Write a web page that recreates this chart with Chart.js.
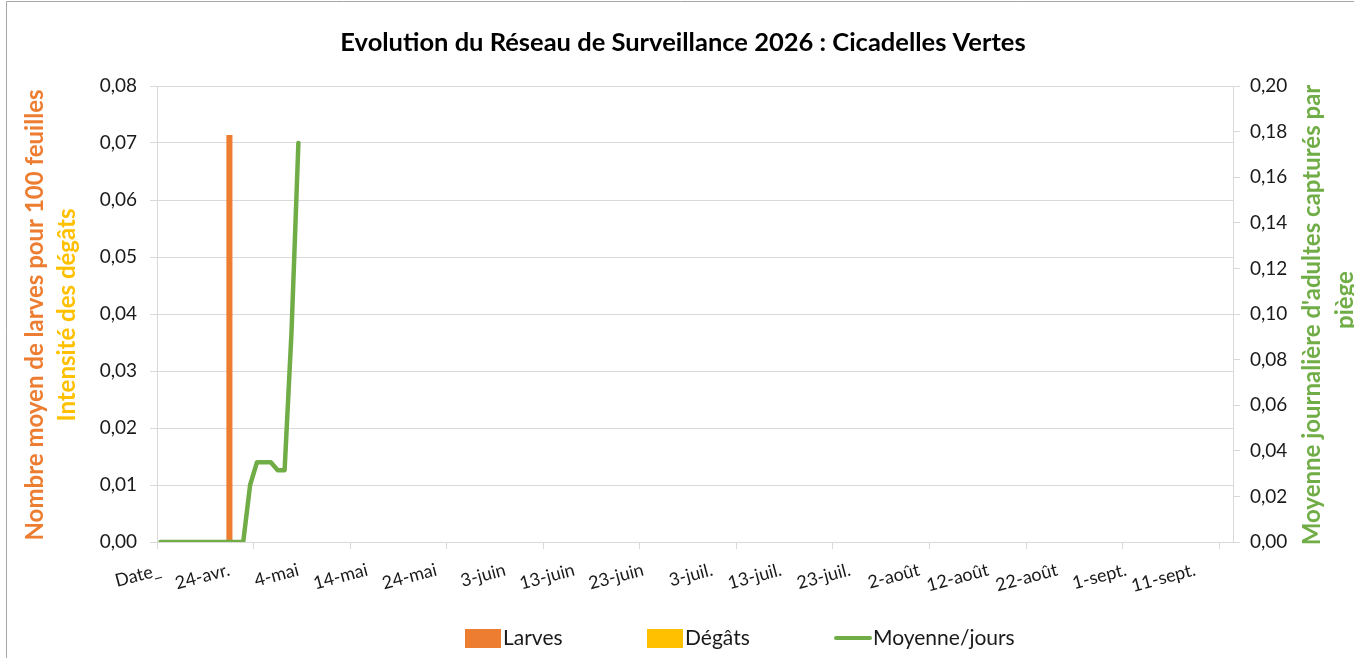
<!DOCTYPE html>
<html>
<head>
<meta charset="utf-8">
<script src="https://cdn.jsdelivr.net/npm/chart.js@4.4.1/dist/chart.umd.min.js"></script>
<style>
  html, body { margin: 0; padding: 0; background: #ffffff; }
  #wrap { position: relative; width: 1354px; height: 658px; }
  canvas { display: block; }
</style>
</head>
<body>
<div id="wrap"><canvas id="c" width="1354" height="658"></canvas></div>
<script>
// ---- Data ----
const tickLabels = ['Date_', '24-avr.', '4-mai', '14-mai', '24-mai', '3-juin', '13-juin', '23-juin',
  '3-juil.', '13-juil.', '23-juil.', '2-août', '12-août', '22-août', '1-sept.', '11-sept.'];
const categoryCount = 156;      // one category per day, "Date_" first
const labelEvery = 10;          // a label every 10 days
const tickMarkEvery = 14;       // tick marks every 14 days

const larvesDays = [10];
const larvesValues = [0.0714];
const degatsDays = [];
const degatsValues = [];
const moyenneValues = [0, 0, 0, 0, 0, 0, 0, 0, 0, 0, 0, 0, 0,
  0.025, 0.035, 0.035, 0.035, 0.0315, 0.0315, 0.092, 0.175];

const seriesNames = ['Larves', 'Dégâts', 'Moyenne/jours'];
const colors = ['#ED7D31', '#FFC000', '#70AD47'];

const titleText = 'Evolution du Réseau de Surveillance 2026 : Cicadelles Vertes';
const leftTitle1 = 'Nombre moyen de larves pour 100 feuilles';
const leftTitle2 = 'Intensité des dégâts';
const rightTitle1 = "Moyenne journalière d'adultes capturés par";
const rightTitle2 = 'piège';

// ---- Build tables ----
const categories = [];
for (let i = 0; i < categoryCount; i++) {
  categories.push(i % labelEvery === 0 && tickLabels[i / labelEvery] !== undefined ? tickLabels[i / labelEvery] : '');
}
function sparse(days, vals) {
  const arr = new Array(categoryCount).fill(null);
  days.forEach((d, k) => { arr[d] = vals[k]; });
  return arr;
}
const fmt = (v, d) => v.toFixed(d).replace('.', ',');

const FONT = 'Lato, "Open Sans", sans-serif';
const GRID = '#d9d9d9';

const textPlugin = {
  id: 'texts',
  afterDraw(chart) {
    const ctx = chart.ctx;
    ctx.save();
    // frame
    ctx.strokeStyle = '#a6a6a6';
    ctx.lineWidth = 1;
    ctx.beginPath();
    ctx.moveTo(6.5, 658); ctx.lineTo(6.5, 1.5); ctx.lineTo(1354, 1.5);
    ctx.stroke();
    // title
    ctx.fillStyle = '#000000';
    ctx.font = 'bold 25.5px ' + FONT;
    ctx.textAlign = 'center';
    ctx.textBaseline = 'middle';
    ctx.fillText(titleText, 683, 43);
    // left axis titles
    ctx.font = 'bold 24px ' + FONT;
    const midY = 315;
    ctx.save();
    ctx.translate(35, midY); ctx.rotate(-Math.PI / 2);
    ctx.fillStyle = colors[0];
    ctx.fillText(leftTitle1, 0, 0);
    ctx.restore();
    ctx.save();
    ctx.translate(67, midY); ctx.rotate(-Math.PI / 2);
    ctx.fillStyle = colors[1];
    ctx.fillText(leftTitle2, 0, 0);
    ctx.restore();
    // right axis titles
    ctx.save();
    ctx.translate(1312, midY); ctx.rotate(-Math.PI / 2);
    ctx.fillStyle = colors[2];
    ctx.fillText(rightTitle1, 0, 0);
    ctx.restore();
    ctx.save();
    ctx.translate(1345, 300); ctx.rotate(-Math.PI / 2);
    ctx.fillStyle = colors[2];
    ctx.fillText(rightTitle2, 0, 0);
    ctx.restore();
    // legend
    const ly = 638;
    ctx.font = '21px ' + FONT;
    ctx.textAlign = 'left';
    ctx.fillStyle = colors[0];
    ctx.fillRect(465, ly - 9, 36, 19);
    ctx.fillStyle = colors[1];
    ctx.fillRect(647, ly - 9, 36, 19);
    ctx.strokeStyle = colors[2];
    ctx.lineWidth = 4;
    ctx.lineCap = 'round';
    ctx.beginPath(); ctx.moveTo(836, ly); ctx.lineTo(870, ly); ctx.stroke();
    ctx.fillStyle = '#1a1a1a';
    ctx.fillText(seriesNames[0], 503, ly);
    ctx.fillText(seriesNames[1], 685, ly);
    ctx.fillText(seriesNames[2], 873, ly);
    ctx.restore();
  }
};

new Chart(document.getElementById('c'), {
  type: 'bar',
  data: {
    labels: categories,
    datasets: [
      { type: 'bar', label: seriesNames[0], data: sparse(larvesDays, larvesValues), backgroundColor: colors[0],
        yAxisID: 'y', grouped: false, barPercentage: 0.88, categoryPercentage: 1, order: 2 },
      { type: 'bar', label: seriesNames[1], data: sparse(degatsDays, degatsValues), backgroundColor: colors[1],
        yAxisID: 'y', grouped: false, barPercentage: 0.88, categoryPercentage: 1, order: 3 },
      { type: 'line', label: seriesNames[2], data: moyenneValues, borderColor: colors[2], backgroundColor: colors[2],
        yAxisID: 'y1', borderWidth: 4.5, pointRadius: 0, tension: 0, borderCapStyle: 'round',
        borderJoinStyle: 'round', order: 1 }
    ]
  },
  options: {
    responsive: false,
    animation: false,
    layout: { padding: { top: 86, left: 0, right: 0, bottom: 0 } },
    plugins: { legend: { display: false }, title: { display: false }, tooltip: { enabled: false } },
    scales: {
      x: {
        type: 'category',
        offset: true,
        afterFit: (s) => { s.height = 116; },
        border: { display: true, color: GRID, width: 1 },
        grid: {
          offset: true,
          drawOnChartArea: false,
          drawTicks: true,
          tickLength: 7,
          color: (c) => (c.index !== undefined && c.index % tickMarkEvery === 0) ? GRID : 'rgba(0,0,0,0)'
        },
        ticks: {
          autoSkip: false,
          minRotation: 15,
          maxRotation: 15,
          padding: 10,
          color: '#1a1a1a',
          font: { family: FONT, size: 18 },
          callback: function (v, i) { return categories[i]; }
        }
      },
      y: {
        position: 'left',
        min: 0, max: 0.08,
        afterFit: (s) => { s.width = 157; },
        border: { display: true, color: GRID },
        grid: { color: GRID, tickLength: 7, drawOnChartArea: true },
        ticks: { stepSize: 0.01, padding: 13, color: '#1a1a1a', font: { family: FONT, size: 19 },
          callback: (v) => fmt(v, 2) }
      },
      y1: {
        position: 'right',
        min: 0, max: 0.2,
        afterFit: (s) => { s.width = 121; },
        border: { display: true, color: GRID },
        grid: { color: GRID, tickLength: 7, drawOnChartArea: false },
        ticks: { stepSize: 0.02, padding: 10, color: '#1a1a1a', font: { family: FONT, size: 19 },
          callback: (v) => fmt(v, 2) }
      }
    }
  },
  plugins: [textPlugin]
});
</script>
</body>
</html>
